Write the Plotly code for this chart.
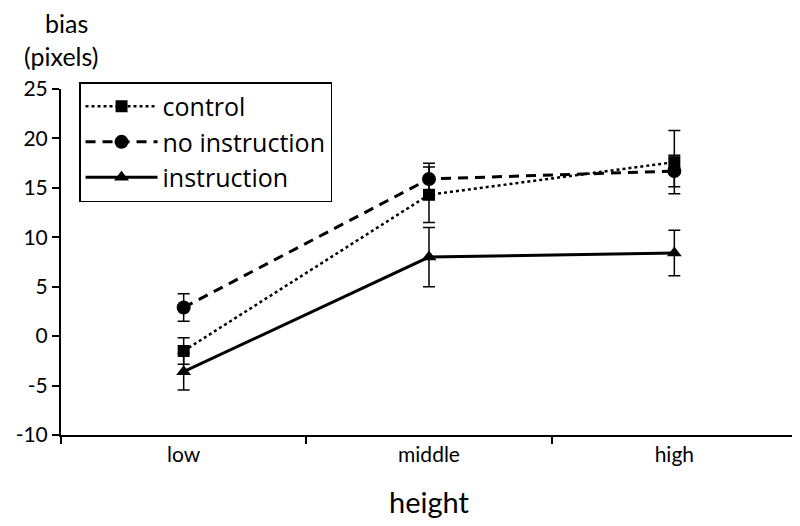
import plotly.graph_objects as go

categories = ["low", "middle", "high"]
control = [-1.5, 14.3, 17.6]
control_err = [1.35, 2.8, 3.2]
no_instruction = [2.9, 15.9, 16.7]
no_instruction_err = [1.4, 1.6, 1.6]
instruction = [-3.6, 8.0, 8.4]
instruction_err = [1.85, 3.0, 2.3]
y_ticks = [-10, -5, 0, 5, 10, 15, 20, 25]
y_tick_labels = ["-10", "-5", "0", "5", "10", "15", "20", "25"]

FONT = "Lato"
fig = go.Figure()

def add(name, vals, errs, symbol, dash, width, msize):
    fig.add_trace(go.Scatter(
        x=categories, y=vals, name=name, mode="lines+markers",
        line=dict(color="black", width=width, dash=dash),
        marker=dict(symbol=symbol, size=msize, color="black"),
        error_y=dict(type="data", array=errs, visible=True, color="black",
                     thickness=1.5, width=6),
    ))

add("control", control, control_err, "square", "dot", 2.5, 12)
add("no instruction", no_instruction, no_instruction_err, "circle", "10px,7px", 3, 14)
add("instruction", instruction, instruction_err, "triangle-up", "solid", 3, 13)

fig.update_layout(
    width=792, height=518,
    margin=dict(l=53, r=3, t=81, b=91, autoexpand=False),
    plot_bgcolor="white", paper_bgcolor="white",
    font=dict(family=FONT, color="black", size=20),
    showlegend=True,
    legend=dict(
        x=0.0245, y=1.02, xanchor="left", yanchor="top",
        bordercolor="black", borderwidth=1.5, bgcolor="white",
        font=dict(size=25, family="Open Sans", color="black"),
        itemwidth=72, tracegroupgap=0,
    ),
    xaxis=dict(
        type="category", range=[-0.5, 2.5],
        showline=True, linecolor="black", linewidth=2,
        ticks="outside", tickson="boundaries", ticklen=7, tickwidth=2, tickcolor="black",
        showgrid=False, zeroline=False,
        tickfont=dict(size=21, family=FONT),
        title=dict(text="height", font=dict(size=29, family=FONT), standoff=27),
    ),
    yaxis=dict(
        range=[-10, 25], tickvals=y_ticks, ticktext=y_tick_labels,
        showline=True, linecolor="black", linewidth=2,
        ticks="outside", ticklen=7, tickwidth=2, tickcolor="black",
        showgrid=False, zeroline=False,
        tickfont=dict(size=21, family=FONT),
    ),
)

fig.add_annotation(
    text="bias", xref="paper", yref="paper",
    x=0.008, y=1.19, xanchor="center", yanchor="middle", showarrow=False,
    font=dict(size=25, family=FONT, color="black"),
)
fig.add_annotation(
    text="(pixels)", xref="paper", yref="paper",
    x=0.0, y=1.095, xanchor="center", yanchor="middle", showarrow=False,
    font=dict(size=25, family=FONT, color="black"),
)

fig.write_html("out.html")
